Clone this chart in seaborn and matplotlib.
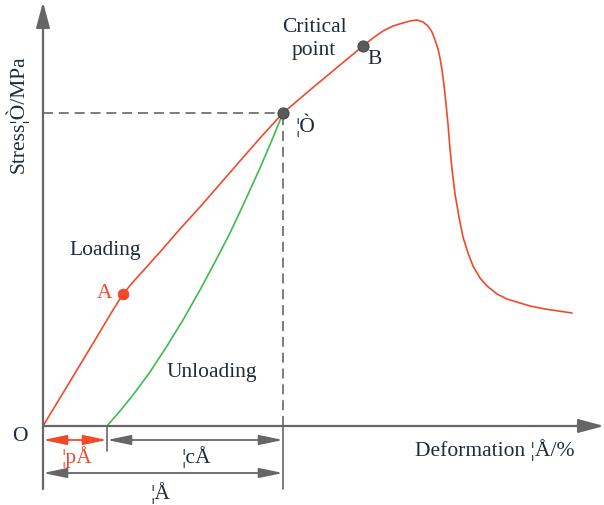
import matplotlib
matplotlib.use("Agg")
import matplotlib.pyplot as plt
import seaborn as sns
import pandas as pd

sns.set_theme(style="white")
plt.rcParams["font.family"] = ["Liberation Serif", "DejaVu Serif"]

# Loading curve (strain, stress) in drawing units
load_strain = [0, 40, 70, 80, 90, 100, 117, 137, 157, 177, 197, 218, 240,
               267, 297, 320, 330, 340, 350, 360, 367, 374, 380, 385, 389,
               392, 395, 397, 399, 401, 403, 405, 407, 409, 412, 416, 420,
               425, 430, 437, 444, 454, 464, 477, 487, 502, 529]
load_stress = [0, 66, 116, 132, 144, 155, 174, 197, 219, 242, 265, 289, 313,
               336, 361, 380, 388, 395, 400, 403, 405, 406, 404, 400, 394,
               386, 377, 368, 356, 341, 322, 302, 277, 257, 232, 209, 189,
               173, 160, 148, 140, 132, 127, 123, 120, 117, 113]

# Unloading curve from sigma back to the residual strain
unload_strain = [64, 77, 90, 107, 124, 140, 157, 172, 187, 202, 217, 229, 240]
unload_stress = [0, 15, 31, 54, 80, 106, 136, 164, 193, 225, 258, 286, 313]

# Key points
pt_A = (80, 132)
pt_sigma = (240, 313)
pt_B = (320, 380)
eps_p = 64

RED = "#f2492b"
GREEN = "#3dbb4c"
GRAY = "#666666"
DARK = "#5a5a5a"
TXT = "#1e2b38"

fig = plt.figure(figsize=(6.04, 5.06), dpi=100)
ax = fig.add_axes([0, 0, 1, 1])
ax.set_xlim(-43, 561)
ax.set_ylim(-79, 427)
ax.axis("off")

load_df = pd.DataFrame({"strain": load_strain, "stress": load_stress})
unload_df = pd.DataFrame({"strain": unload_strain, "stress": unload_stress})

# Axes with arrows
ax.annotate("", xy=(561, 0), xytext=(0, 0),
            arrowprops=dict(arrowstyle="-|>,head_length=1.3,head_width=0.35",
                            color=GRAY, lw=1.6, shrinkA=0, shrinkB=0))
ax.annotate("", xy=(0, 424), xytext=(0, -63),
            arrowprops=dict(arrowstyle="-|>,head_length=1.3,head_width=0.35",
                            color=GRAY, lw=1.6, shrinkA=0, shrinkB=0))

# Guide lines to sigma
ax.plot([0, pt_sigma[0]], [pt_sigma[1], pt_sigma[1]], color=GRAY, lw=1.2,
        ls=(0, (6, 3.5)))
ax.plot([pt_sigma[0], pt_sigma[0]], [0, pt_sigma[1]], color=GRAY, lw=1.2,
        ls=(0, (6, 3.5)))
ax.plot([pt_sigma[0], pt_sigma[0]], [0, -63], color=GRAY, lw=1.2)
ax.plot([eps_p, eps_p], [0, -25], color=GRAY, lw=1.2)

sns.lineplot(data=load_df, x="strain", y="stress", ax=ax, color=RED, lw=1.2,
             sort=False, estimator=None)
sns.lineplot(data=unload_df, x="strain", y="stress", ax=ax, color=GREEN,
             lw=1.2, sort=False, estimator=None)

sns.scatterplot(x=[pt_A[0]], y=[pt_A[1]], ax=ax, s=60, color=RED,
                edgecolor=RED, zorder=5)
sns.scatterplot(x=[pt_sigma[0], pt_B[0]], y=[pt_sigma[1], pt_B[1]], ax=ax,
                s=65, color=DARK, edgecolor="#444444", zorder=5)

# Dimension arrows
def dim(x0, x1, y, color):
    ax.annotate("", xy=(x1, y), xytext=(x0, y),
                arrowprops=dict(arrowstyle="<|-|>,head_length=1.2,head_width=0.25",
                                color=color, lw=1.3, shrinkA=0, shrinkB=0))

dim(0, eps_p, -14, RED)
dim(eps_p, pt_sigma[0], -14, GRAY)
dim(0, pt_sigma[0], -47, GRAY)

fs = 15.5
ax.text(-23, -10, "O", fontsize=fs, color=TXT, ha="center", va="center")
ax.text(34, -30, "¦pÅ", fontsize=fs, color=RED, ha="center", va="center")
ax.text(153, -30, "¦cÅ", fontsize=fs, color=TXT, ha="center", va="center")
ax.text(117, -66, "¦Å", fontsize=fs, color=TXT, ha="center", va="center")
ax.text(452, -23, "Deformation ¦Å/%", fontsize=fs, color=TXT, ha="center",
        va="center")
ax.text(-26, 313, "Stress¦Ò/MPa", fontsize=fs, color=TXT, ha="center",
        va="center", rotation=90)
ax.text(262, 302, "¦Ò", fontsize=fs, color=TXT, ha="center", va="center")
ax.text(271, 388, "Critical\npoint", fontsize=fs, color=TXT, ha="center",
        va="center", linespacing=1.25)
ax.text(332, 368, "B", fontsize=fs, color=TXT, ha="center", va="center")
ax.text(62, 133, "A", fontsize=fs, color=RED, ha="center", va="center")
ax.text(62, 176, "Loading", fontsize=fs, color=TXT, ha="center", va="center")
ax.text(169, 54, "Unloading", fontsize=fs, color=TXT, ha="center",
        va="center")

fig.savefig("out.png", dpi=100)
